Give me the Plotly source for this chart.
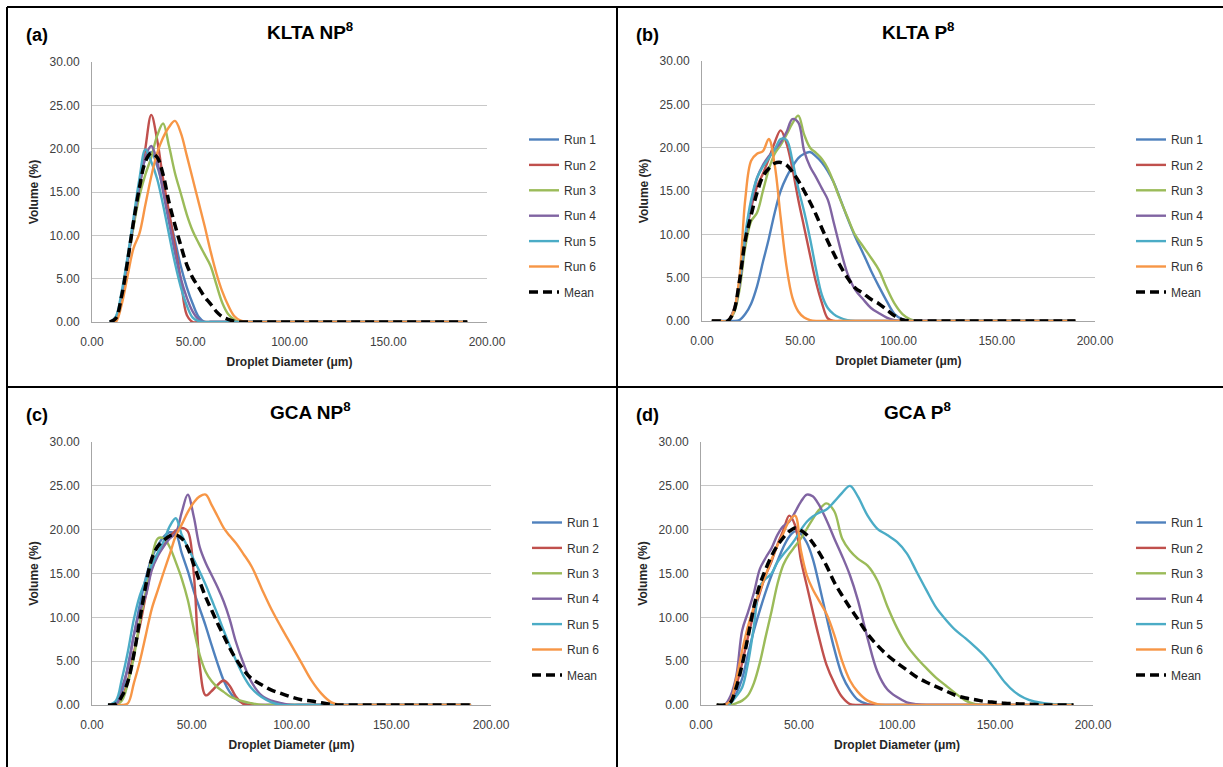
import plotly.graph_objects as go

# ---------------- data ----------------
NAMES = ["Run 1", "Run 2", "Run 3", "Run 4", "Run 5", "Run 6", "Mean"]
COLORS = ["#4F81BD", "#C0504D", "#9BBB59", "#8064A2", "#4BACC6", "#F79646", "#000000"]
X_TICKS = [0, 50, 100, 150, 200]
Y_TICKS = [0, 5, 10, 15, 20, 25, 30]

# (a) KLTA NP
XA = [9, 12, 15, 18, 21, 24, 27, 30, 33, 36, 39, 42, 45, 48, 51, 54, 57, 60, 63, 66, 69, 72, 75,
      80, 90, 100, 115, 130, 145, 160, 175, 190]
A_RUN1 = [0, 0.4, 3, 7, 11.5, 15.5, 18.8, 19.6, 18, 15.5, 12.3, 9.4, 6.4, 4, 2.1, 0.6, 0] + [0] * 15
A_RUN2 = [0, 0.5, 3, 7, 11.5, 15.5, 20, 23.9, 21, 16.5, 12.7, 8.8, 4.8, 0.8, 0, 0, 0] + [0] * 15
A_RUN3 = [0, 0.4, 3, 7, 11, 14.5, 17, 19, 21.5, 22.9, 20.3, 17.2, 14.8, 12.4, 10.5, 9.1, 7.8, 6.5,
          4.3, 2.2, 0.9, 0.3] + [0] * 10
A_RUN4 = [0, 0.5, 3, 7, 11.5, 15.5, 19, 20.3, 18.5, 15, 11.5, 8, 5, 2.8, 1.2, 0.3, 0] + [0] * 15
A_RUN5 = [0, 0.6, 3.5, 7.5, 12, 16.5, 19.9, 18.5, 16.5, 13.5, 10.1, 6.8, 4, 1.9, 0.5, 0.1, 0] + [0] * 15
A_RUN6 = [0, 0, 2, 5.3, 8.5, 10.2, 13.5, 16.8, 19.5, 21.3, 22.5, 23.2, 21.8, 19.2, 16.5, 13.8, 11.1,
          8.2, 5.6, 3.5, 1.9, 0.7, 0.2] + [0] * 9
A_MEAN = [0, 0.4, 3, 7, 11.5, 15.5, 18.5, 19.5, 19, 17, 13.8, 11.2, 8.8, 6.6, 5.1, 4, 2.9, 2.1, 1.2,
          0.6, 0.3, 0.1, 0] + [0] * 9

# (b) KLTA P
XB = [5, 9, 13, 16, 19, 22, 25, 28, 31, 34, 37, 40, 43, 46, 49, 52, 55, 58, 61, 64, 67, 70,
      74, 78, 82, 86, 90, 94, 98, 102, 106, 110, 120, 140, 160, 190]
B_RUN1 = [0, 0, 0, 0, 0.1, 0.8, 2, 4, 6.8, 9.5, 12.5, 15, 16.6, 17.8, 18.8, 19.3, 19.5, 19, 18.3,
          17.3, 16, 14.3, 11.9, 9.7, 7.8, 5.8, 4, 2.3, 0.8, 0.2, 0, 0, 0, 0, 0, 0]
B_RUN2 = [0, 0, 0, 1.2, 4, 9.5, 13, 15.5, 17, 18.7, 20.6, 22, 20.5, 17.6, 14, 10.8, 7.6, 4.5, 2.1,
          0.3, 0, 0] + [0] * 14
B_RUN3 = [0, 0, 0, 0.8, 3.5, 8.5, 11.5, 12.5, 15, 17.5, 19.3, 20.3, 21.5, 22.8, 23.7, 21.5, 20,
          19.4, 18.7, 17.6, 16, 14.2, 12, 9.9, 8.6, 7.3, 5.9, 3.8, 2, 0.8, 0.2, 0, 0, 0, 0, 0]
B_RUN4 = [0, 0, 0, 1, 4, 9.5, 13.5, 16.5, 18, 19, 19.8, 20.6, 21.8, 23.3, 22.9, 19.6, 17.8, 16.6,
          15.3, 14, 11.4, 8.7, 5.5, 3.6, 2.5, 1.5, 0.9, 0.4, 0.1, 0, 0, 0, 0, 0, 0, 0]
B_RUN5 = [0, 0, 0, 1, 4.5, 10, 14, 16.5, 17.8, 18.8, 19.8, 21, 20.9, 18.5, 15.3, 12.6, 9.5, 6, 3,
          1.5, 0.8, 0.4, 0.1] + [0] * 13
B_RUN6 = [0, 0, 0, 1, 5, 14, 18.5, 19.3, 19.6, 21, 18, 12, 6.3, 2.7, 1.1, 0.4, 0.1] + [0] * 19
B_MEAN = [0, 0, 0, 1, 4.5, 9.3, 12.2, 14.8, 16.7, 17.6, 18.2, 18.3, 18, 17.2, 16.2, 15, 13.7, 12.3,
          10.7, 9.2, 7.8, 6.5, 5, 3.8, 3.2, 2.5, 2, 1.3, 0.6, 0.15, 0, 0, 0, 0, 0, 0]

# (c) GCA NP
XC = [8, 12, 15, 18, 21, 24, 27, 30, 33, 36, 39, 42, 45, 48, 51, 54, 57, 60, 63, 66, 69, 72, 76, 80,
      85, 90, 95, 100, 105, 110, 115, 120, 125, 135, 150, 170, 190]
C_RUN1 = [0, 0.2, 1.5, 4.5, 8, 11.5, 14.5, 16.8, 18.2, 19.2, 19.7, 19.5, 17.3, 15.3, 13, 11, 9, 6.8,
          4.7, 2.8, 1.5, 0.7, 0.2, 0] + [0] * 13
C_RUN2 = [0, 0, 0.8, 2.8, 6, 9, 12.5, 15.6, 17.2, 18.2, 19.2, 19.9, 20.2, 19.8, 15, 4.5, 1.1, 1.6,
          2.3, 2.8, 2.2, 1, 0.1, 0] + [0] * 13
C_RUN3 = [0, 0, 0.5, 2.5, 5.5, 9.5, 13, 16.8, 19, 19, 18, 16.3, 14.4, 12, 8.7, 5.7, 3.8, 2.7, 2,
          1.5, 1, 0.7, 0.4, 0.2, 0] + [0] * 12
C_RUN4 = [0, 0, 2, 4.2, 8, 10.7, 12.5, 15.4, 17, 18.1, 19, 19.6, 22, 24, 21.5, 18, 16.2, 14.8, 13.4,
          11.8, 9.8, 7.3, 4.7, 2.6, 1.1, 0.5, 0.2, 0] + [0] * 9
C_RUN5 = [0, 0.5, 3, 6.1, 9.8, 12.5, 14.3, 16, 17.4, 18.7, 20.4, 21.3, 19.4, 18, 16.6, 15.2, 13.7,
          12, 10.3, 8.5, 6.8, 5.2, 3.3, 1.9, 0.9, 0.3, 0] + [0] * 10
C_RUN6 = [0, 0, 0, 0.2, 2.5, 5, 8, 11, 13.1, 15.2, 17.2, 19.3, 20.6, 22, 23.1, 23.8, 24, 22.8, 21.5,
          20.2, 19.3, 18.5, 17.2, 15.8, 13.3, 10.9, 8.8, 6.8, 4.8, 2.8, 1.3, 0.3, 0, 0, 0, 0, 0]
C_MEAN = [0, 0.1, 1, 2.7, 5.8, 9.8, 13.7, 16.7, 18.1, 18.8, 19.3, 19.4, 19, 17.9, 16, 14.1, 12.3,
          10.8, 9.3, 7.9, 6.5, 5.3, 4, 3, 2.3, 1.7, 1.3, 0.9, 0.6, 0.45, 0.25, 0.08, 0, 0, 0, 0, 0]

# (d) GCA P
XD = [8, 12, 15, 18, 21, 24, 27, 30, 33, 36, 39, 42, 45, 48, 51, 54, 57, 60, 64, 68, 72, 76, 80,
      85, 90, 95, 100, 105, 110, 115, 120, 125, 130, 135, 140, 145, 150, 155, 160, 165, 170, 175, 180, 190]
D_RUN1 = [0, 0, 0.3, 1.3, 3, 5.8, 8.5, 10.8, 12.9, 14.8, 16.4, 18, 19.2, 19.8, 19.5, 18.5, 16.7, 14,
          10.1, 6.4, 3.4, 1.7, 0.6, 0.1] + [0] * 20
D_RUN2 = [0, 0, 0.5, 2.2, 4.8, 7.8, 10.5, 12.8, 14.8, 16.4, 18.3, 19.9, 21.6, 20.5, 16.5, 13.6,
          10.7, 7.9, 4.6, 2.5, 0.9, 0.1, 0] + [0] * 21
D_RUN3 = [0, 0, 0, 0.2, 0.5, 1.1, 2.5, 4.8, 7.8, 10.7, 13.8, 16, 17.2, 18.1, 19, 20.1, 21.2, 22.2,
          23, 22.1, 19, 17.6, 16.7, 15.9, 14.2, 11.3, 8.8, 6.8, 5.4, 4.2, 3.1, 2.2, 1.3, 0.5, 0.1,
          0] + [0] * 8
D_RUN4 = [0, 0, 1, 3.3, 8.5, 10.6, 12.8, 15.5, 16.8, 17.9, 19.4, 20.4, 20.9, 22, 23.2, 24, 23.8,
          22.9, 21.1, 19, 17, 14.8, 12, 7.6, 3.8, 1.8, 0.9, 0.3, 0.1, 0] + [0] * 14
D_RUN5 = [0, 0, 0.2, 1, 2, 4.8, 9, 13.5, 14.4, 15, 16.3, 17.2, 18, 18.9, 20, 20.9, 21.5, 21.9, 22.3,
          23.2, 24.2, 25, 23.8, 21.6, 20.1, 19.4, 18.6, 17.3, 15.2, 13.1, 11.1, 9.7, 8.5, 7.6, 6.6,
          5.5, 4.1, 2.6, 1.5, 0.8, 0.4, 0.2, 0.1, 0.05]
D_RUN6 = [0, 0, 0.5, 3, 6.2, 9, 11.2, 13, 14.8, 16.6, 18.2, 19.6, 21, 21.6, 17.6, 14.8, 13.2, 12,
          10.4, 8, 5, 2.8, 1.5, 0.5, 0.1, 0] + [0] * 18
D_MEAN = [0, 0, 0.3, 2, 4.6, 7.8, 11.2, 13.7, 15.5, 17, 18.2, 19.1, 19.8, 20.2, 19.9, 19.4, 18.5,
          17.5, 15.9, 14, 12.5, 11.1, 9.8, 8.1, 6.8, 5.7, 4.8, 4, 3.2, 2.6, 2.1, 1.6, 1.1, 0.8, 0.6,
          0.4, 0.3, 0.2, 0.15, 0.1, 0.05, 0, 0, 0]

PANELS = [
    dict(x=XA, series=[A_RUN1, A_RUN2, A_RUN3, A_RUN4, A_RUN5, A_RUN6, A_MEAN],
         title="KLTA NP<sup>8</sup>", tag="(a)"),
    dict(x=XB, series=[B_RUN1, B_RUN2, B_RUN3, B_RUN4, B_RUN5, B_RUN6, B_MEAN],
         title="KLTA P<sup>8</sup>", tag="(b)"),
    dict(x=XC, series=[C_RUN1, C_RUN2, C_RUN3, C_RUN4, C_RUN5, C_RUN6, C_MEAN],
         title="GCA NP<sup>8</sup>", tag="(c)"),
    dict(x=XD, series=[D_RUN1, D_RUN2, D_RUN3, D_RUN4, D_RUN5, D_RUN6, D_MEAN],
         title="GCA P<sup>8</sup>", tag="(d)"),
]

# ---------------- layout geometry (pixels) ----------------
W, H = 1223, 767
# plot areas: (left, right, top, bottom)
AREAS = [(92, 487, 62, 322), (702, 1095, 61, 321), (92, 491, 442, 705), (701, 1093, 442, 705)]
TITLE_POS = [(310, 31), (918, 31), (310, 411), (917, 411)]
TAG_POS = [(24, 35), (634, 35), (24, 415), (634, 415)]
LEGEND_POS = [(524, 125), (1131, 125), (527, 508), (1131, 508)]

def fx(p):
    return p / W

def fy(p):
    return 1 - p / H

FONT = "Liberation Sans, Arial, sans-serif"
TICK_COLOR = "#404040"
GRID = "#c8c8c8"
AXLINE = "#a6a6a6"

fig = go.Figure()
annotations = []
layout = {}
for i, pnl in enumerate(PANELS):
    k = "" if i == 0 else str(i + 1)
    leg = "legend" if i == 0 else f"legend{i + 1}"
    for j, (name, ys) in enumerate(zip(NAMES, pnl["series"])):
        is_mean = name == "Mean"
        fig.add_trace(go.Scatter(
            x=pnl["x"], y=ys, name=name, mode="lines",
            line=dict(color=COLORS[j], width=3.5 if is_mean else 2.4,
                      dash="9px,5px" if is_mean else "solid",
                      shape="spline", smoothing=1.0),
            xaxis=f"x{k}", yaxis=f"y{k}", legend=leg, legendgroup=f"{i}-{j}",
            hoverinfo="skip",
        ))
    l, r, t, b = AREAS[i]
    layout[f"xaxis{k}"] = dict(
        domain=[fx(l), fx(r)], anchor=f"y{k}", range=[0, 200], tickvals=X_TICKS,
        tickformat=".2f", showgrid=False, zeroline=False, showline=True,
        linecolor=AXLINE, linewidth=1, ticks="", ticklabelstandoff=9, automargin=False,
        tickfont=dict(family=FONT, size=12, color=TICK_COLOR),
        title=dict(text="<b>Droplet Diameter (μm)</b>", standoff=9,
                   font=dict(family=FONT, size=12, color="#262626")),
        fixedrange=True,
    )
    layout[f"yaxis{k}"] = dict(
        domain=[fy(b), fy(t)], anchor=f"x{k}", range=[0, 30], tickvals=Y_TICKS,
        tickformat=".2f", showgrid=True, gridcolor=GRID, gridwidth=1, zeroline=False,
        showline=True, linecolor=AXLINE, linewidth=1, ticks="", ticklabelstandoff=9,
        automargin=False,
        tickfont=dict(family=FONT, size=12, color=TICK_COLOR),
        title=dict(text="<b>Volume (%)</b>", standoff=8,
                   font=dict(family=FONT, size=12, color="#262626")),
        fixedrange=True,
    )
    lx, ly = LEGEND_POS[i]
    layout[leg] = dict(
        x=fx(lx), y=fy(ly), xanchor="left", yanchor="top", xref="paper", yref="paper",
        font=dict(family=FONT, size=12, color="#333333"), bgcolor="rgba(0,0,0,0)",
        tracegroupgap=6.4, traceorder="grouped", itemclick=False, itemdoubleclick=False,
    )
    tx, ty = TITLE_POS[i]
    annotations.append(dict(
        x=fx(tx), y=fy(ty), xref="paper", yref="paper", xanchor="center", yanchor="middle",
        text=f"<b>{pnl['title']}</b>", showarrow=False,
        font=dict(family=FONT, size=19, color="#000000"),
    ))
    gx, gy = TAG_POS[i]
    annotations.append(dict(
        x=fx(gx), y=fy(gy), xref="paper", yref="paper", xanchor="left", yanchor="middle",
        text=f"<b>{pnl['tag']}</b>", showarrow=False,
        font=dict(family=FONT, size=18, color="#000000"),
    ))

# panel frame lines
BORDERS = [((7, 7), (1223, 7)), ((7, 387), (1223, 387)), ((7, 7), (7, 767)), ((617, 7), (617, 767))]
shapes = [dict(type="line", xref="paper", yref="paper", x0=fx(a[0]), y0=fy(a[1]),
               x1=fx(c[0]), y1=fy(c[1]), line=dict(color="#000000", width=2))
          for a, c in BORDERS]

fig.update_layout(
    width=W, height=H, autosize=False,
    margin=dict(l=0, r=0, t=0, b=0, pad=0, autoexpand=False),
    paper_bgcolor="white", plot_bgcolor="white",
    annotations=annotations, shapes=shapes, showlegend=True,
    **layout,
)

# remove the browser's default page margin so the figure sits at the window origin
fig.write_html(
    "out.html",
    config={"displayModeBar": False, "staticPlot": True},
    post_script="document.body.style.margin='0';document.body.style.padding='0';"
                "document.body.style.overflow='hidden';",
)
